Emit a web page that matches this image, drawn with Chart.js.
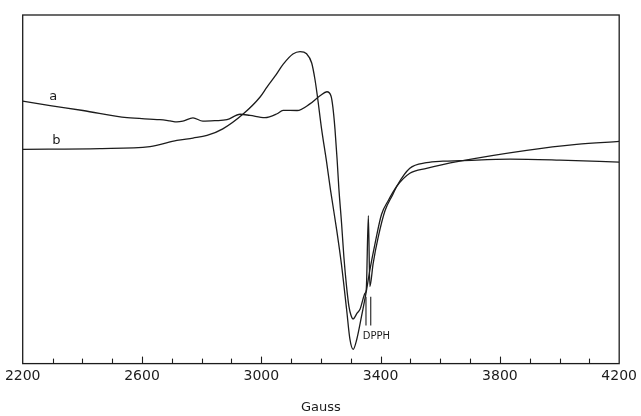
<!DOCTYPE html>
<html>
<head>
<meta charset="utf-8">
<script src="https://cdn.jsdelivr.net/npm/chart.js@4.4.1/dist/chart.umd.min.js"></script>
<style>
    body { margin: 0; background: #fff; }
    #wrap { width: 641px; height: 416px; }
</style>
</head>
<body>
<div id="wrap"><canvas id="esrChart" width="641" height="416"></canvas></div>
<script>
// Field (Gauss) and signal (arbitrary units)
const aGauss = [2200, 2292, 2402, 2550, 2660, 2694, 2717, 2737, 2771, 2804, 2845, 2885, 2929, 2962, 3012, 3053, 3073, 3120, 3163, 3197, 3220, 3234, 3240, 3247, 3254, 3260, 3269, 3277, 3286, 3294, 3301, 3308, 3321, 3331, 3348, 3352, 3359, 3364, 3375, 3392, 3415, 3441, 3455, 3498, 3554, 3609, 3666, 3834, 4001, 4200];
const aSignal = [265.7, 261.3, 256.3, 249, 247, 245.7, 244.7, 245.5, 248.8, 245.5, 246, 247, 252.5, 251.3, 249, 253, 256.5, 256.3, 263, 271.3, 275.3, 270.7, 259.7, 237.7, 207.7, 177.7, 142.7, 107.7, 77.7, 57.7, 48.7, 45.2, 51, 55, 71.3, 75, 149.7, 78, 101.3, 128, 155, 171.3, 180, 197.7, 203.4, 205, 205.5, 207, 206, 204];

const bGauss = [2200, 2459, 2627, 2717, 2771, 2818, 2871, 2939, 2996, 3019, 3046, 3073, 3106, 3130, 3152, 3169, 3180, 3188, 3202, 3219, 3232, 3253, 3269, 3286, 3297, 3308, 3320, 3336, 3353, 3364, 3381, 3403, 3425, 3454, 3498, 3554, 3666, 3890, 4057, 4200];
const bSignal = [217, 217.7, 219.7, 226, 228.4, 231, 237.7, 252.7, 270, 280, 291, 303, 313.5, 316, 313.7, 304.4, 287.7, 271, 238, 204, 176, 135, 100, 55, 25, 14.4, 24.4, 47.7, 74.7, 94.7, 121, 151, 164.7, 179.4, 192.7, 197.7, 205, 216, 222, 225];

// DPPH marker strokes
const dpphGauss = [3351, 3367];
const dpphTop = 67.7;
const dpphBottom = 38.7;

const tickLabels = [2200, 2600, 3000, 3400, 3800, 4200];
const xTitle = 'Gauss';

const toPoints = (xs, ys) => xs.map((x, i) => ({ x: x, y: ys[i] }));

const markerPoints = [];
dpphGauss.forEach(g => {
    markerPoints.push({ x: g, y: dpphTop });
    markerPoints.push({ x: g, y: dpphBottom });
    markerPoints.push({ x: g, y: null });
});

const ink = '#1c1c1c';

// frame, inward ticks and the text notes
const framePlugin = {
    id: 'frame',
    afterDraw(chart) {
        const ctx = chart.ctx;
        const area = chart.chartArea;
        const xs = chart.scales.x;
        const ys = chart.scales.y;
        ctx.save();
        ctx.strokeStyle = ink;
        ctx.lineWidth = 1.3;
        ctx.strokeRect(area.left, area.top, area.right - area.left, area.bottom - area.top);

        ctx.lineWidth = 1.1;
        for (let g = 2300; g < 4200; g += 100) {
            const px = Math.round(xs.getPixelForValue(g)) + 0.5;
            const len = (g - 2200) % 400 === 0 ? 7 : 5;
            ctx.beginPath();
            ctx.moveTo(px, area.bottom);
            ctx.lineTo(px, area.bottom - len);
            ctx.stroke();
        }

        ctx.fillStyle = ink;
        ctx.textBaseline = 'middle';
        ctx.font = '13px "DejaVu Sans"';
        ctx.textAlign = 'center';
        ctx.fillText('a', xs.getPixelForValue(2302), ys.getPixelForValue(270.2));
        ctx.fillText('b', xs.getPixelForValue(2313), ys.getPixelForValue(225.4));

        ctx.font = '10px "DejaVu Sans"';
        ctx.textAlign = 'left';
        ctx.fillText('DPPH', xs.getPixelForValue(3340), ys.getPixelForValue(27.7));
        ctx.restore();
    }
};

new Chart(document.getElementById('esrChart'), {
    type: 'line',
    data: {
        datasets: [
            {
                label: 'a',
                data: toPoints(aGauss, aSignal),
                borderColor: ink,
                borderWidth: 1.3,
                pointRadius: 0,
                cubicInterpolationMode: 'monotone',
                fill: false
            },
            {
                label: 'b',
                data: toPoints(bGauss, bSignal),
                borderColor: ink,
                borderWidth: 1.3,
                pointRadius: 0,
                cubicInterpolationMode: 'monotone',
                fill: false
            },
            {
                label: 'DPPH',
                data: markerPoints,
                borderColor: ink,
                borderWidth: 1.1,
                pointRadius: 0,
                tension: 0,
                spanGaps: false,
                fill: false
            }
        ]
    },
    options: {
        responsive: false,
        animation: false,
        devicePixelRatio: 1,
        layout: {
            padding: { left: 22.7, right: 21.7, top: 15, bottom: 0 }
        },
        plugins: {
            legend: { display: false },
            tooltip: { enabled: false }
        },
        scales: {
            x: {
                type: 'linear',
                min: 2200,
                max: 4200,
                afterBuildTicks: (scale) => {
                    scale.ticks = tickLabels.map(v => ({ value: v }));
                },
                grid: { display: false, drawTicks: false },
                border: { display: false },
                ticks: {
                    padding: 4,
                    maxRotation: 0,
                    autoSkip: false,
                    color: ink,
                    font: { family: 'DejaVu Sans', size: 14 },
                    callback: (v) => String(v)
                },
                title: {
                    display: true,
                    text: xTitle,
                    color: ink,
                    font: { family: 'DejaVu Sans', size: 13 },
                    padding: { top: 11, bottom: 1 }
                }
            },
            y: {
                display: false,
                min: 0,
                max: 353
            }
        }
    },
    plugins: [framePlugin]
});
</script>
</body>
</html>
